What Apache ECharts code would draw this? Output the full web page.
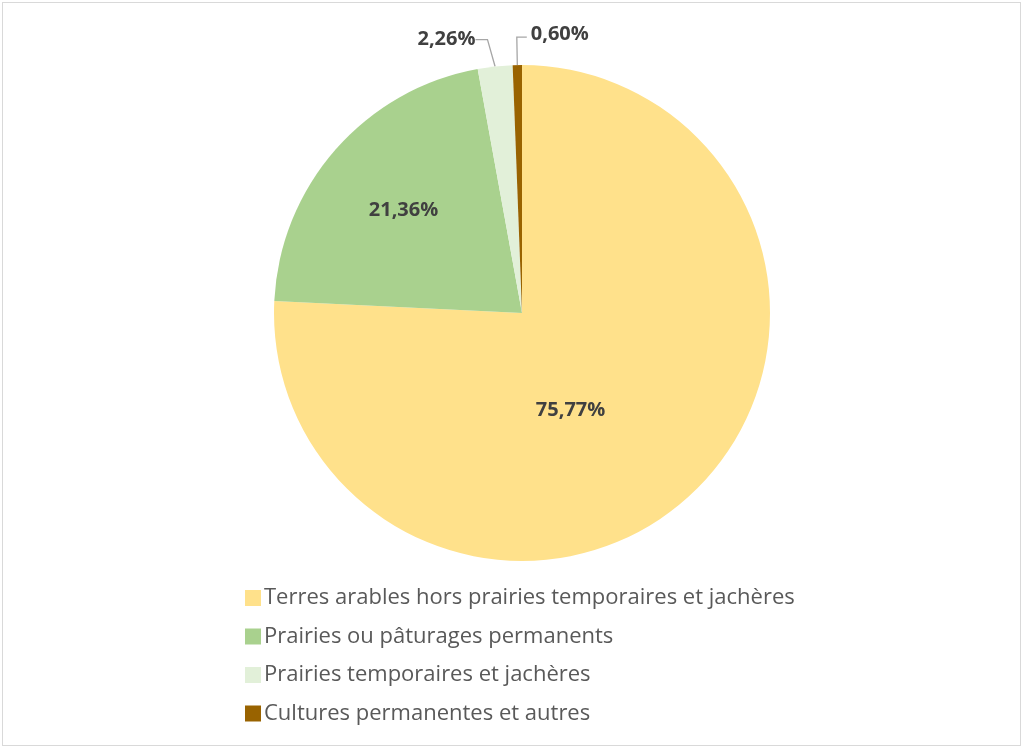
<!DOCTYPE html>
<html><head><meta charset="utf-8">
<script src="https://cdn.jsdelivr.net/npm/echarts@6/dist/echarts.min.js"></script>
<style>html,body{margin:0;padding:0;background:#fff}#c{width:1024px;height:749px}
#frame{position:absolute;left:2px;top:2px;width:1017px;height:742px;border:1px solid #d9d9d9;pointer-events:none}</style>
</head><body><div id="c"></div><div id="frame"></div>
<script>
const categories = [
  'Terres arables hors prairies temporaires et jachères',
  'Prairies ou pâturages permanents',
  'Prairies temporaires et jachères',
  'Cultures permanentes et autres'
];
const values = [75.77, 21.36, 2.26, 0.60];
const colors = ['#FFE18B', '#A9D18E', '#E2F0D9', '#996300'];

const font = '"Open Sans", "Noto Sans", sans-serif';
const fmt = v => v.toFixed(2).replace('.', ',') + '%';

const data = categories.map((name, i) => {
  const outside = i >= 2;
  return {
    name, value: values[i],
    itemStyle: { color: colors[i] },
    label: { position: outside ? 'outside' : 'inside' },
    labelLine: { show: outside, length: i === 3 ? 28 : 24, length2: i === 3 ? 10 : 12 }
  };
});

const chart = echarts.init(document.getElementById('c'));
chart.setOption({
  animation: false,
  legend: {
    orient: 'vertical', left: 240, top: 582,
    itemWidth: 16, itemHeight: 16, itemGap: 16.5, icon: 'rect',
    textStyle: { fontFamily: font, fontSize: 22, color: '#595959', padding: [0, 0, 0, -2] },
    data: categories
  },
  series: [{
    type: 'pie',
    center: [522, 313], radius: 248,
    startAngle: 90, clockwise: true,
    avoidLabelOverlap: false,
    label: {
      formatter: p => fmt(p.value),
      fontFamily: font, fontSize: 20, fontWeight: 'bold', color: '#404040'
    },
    labelLine: { lineStyle: { color: '#a6a6a6', width: 1.3 } },
    labelLayout: function (p) {
      if (p.dataIndex === 0) return { dx: -39, dy: 5 };
      if (p.dataIndex === 1) return { dx: -23, dy: -19 };
      if (p.dataIndex === 3 && p.labelLinePoints) {
        const pts = p.labelLinePoints;
        const p1 = pts[1], p2 = pts[2];
        const mx = p1[0] + (p1[0] - p2[0]);
        return {
          x: mx + 4, y: p2[1] - 3, align: 'left', verticalAlign: 'middle',
          labelLinePoints: [pts[0], p1, [mx, p2[1]]]
        };
      }
      if (p.dataIndex === 2 && p.labelLinePoints) {
        const pts = p.labelLinePoints;
        return { y: pts[2][1] - 3 };
      }
      return {};
    },
    emphasis: { disabled: true },
    data
  }]
});
</script></body></html>
